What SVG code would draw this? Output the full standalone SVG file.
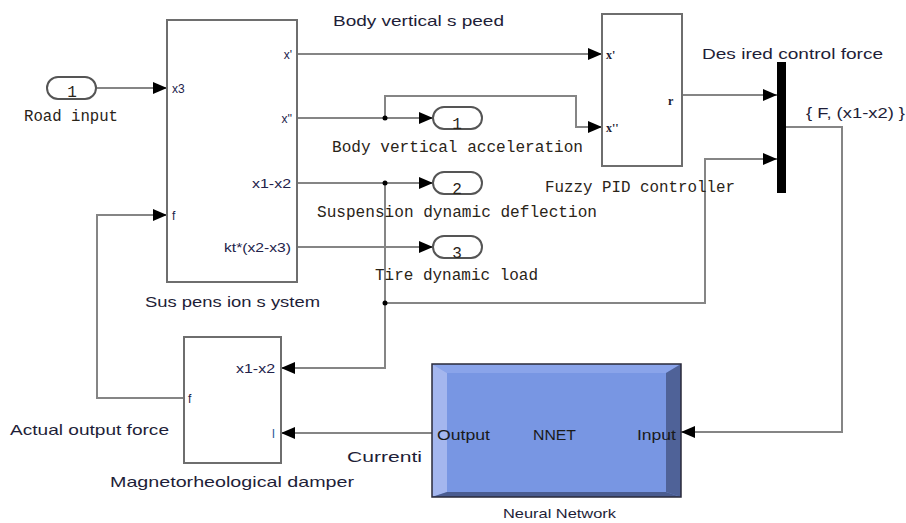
<svg xmlns="http://www.w3.org/2000/svg" width="906" height="523" viewBox="0 0 906 523">
<defs>
<marker id="arr" markerUnits="userSpaceOnUse" markerWidth="14" markerHeight="12" refX="14" refY="6" orient="auto">
<path d="M0,0 L14,6 L0,12 z" fill="#000"/>
</marker>
<style>
.blk{fill:#fff;stroke:#6e6e6e;stroke-width:2}
.port{fill:#fff;stroke:#555;stroke-width:2}
.ln{fill:none;stroke:#858585;stroke-width:2}
.sans{font-family:"Liberation Sans",Arial,sans-serif;fill:#1e1e38}
.mono{font-family:"Liberation Mono","Courier New",monospace;fill:#2a2418;font-size:16px}
.pl{font-family:"Liberation Sans",Arial,sans-serif;fill:#22224a;font-size:12px}
.fz{font-family:"Liberation Serif","Times New Roman",serif;font-weight:bold;fill:#1a1a30;font-size:12px}
.nn{font-family:"Liberation Sans",Arial,sans-serif;fill:#1a1a1a;font-size:15px}
.dot{fill:#000}
</style>
</defs>
<rect width="906" height="523" fill="#fff"/>

<g id="connectors">
<path class="ln" d="M96,88 H167" marker-end="url(#arr)"/>
<path class="ln" d="M297,54 H602" marker-end="url(#arr)"/>
<path class="ln" d="M297,118 H433" marker-end="url(#arr)"/>
<path class="ln" d="M385,118 V96 H576 V127 H602" marker-end="url(#arr)"/>
<path class="ln" d="M297,183 H433" marker-end="url(#arr)"/>
<path class="ln" d="M297,247 H433" marker-end="url(#arr)"/>
<path class="ln" d="M385,183 V368 H281" marker-end="url(#arr)"/>
<path class="ln" d="M385,303 H705 V159 H777" marker-end="url(#arr)"/>
<path class="ln" d="M682,95 H777" marker-end="url(#arr)"/>
<path class="ln" d="M786,127 H842 V432 H681" marker-end="url(#arr)"/>
<path class="ln" d="M432,433 H281" marker-end="url(#arr)"/>
<path class="ln" d="M184,398 H97 V215 H167" marker-end="url(#arr)"/>
<circle class="dot" cx="385" cy="118" r="2.5"/>
<circle class="dot" cx="385" cy="183" r="2.5"/>
<circle class="dot" cx="385" cy="303" r="2.5"/>
<text class="sans" x="333" y="26" font-size="15" textLength="171" lengthAdjust="spacingAndGlyphs">Body vertical s peed</text>
<text class="sans" x="806" y="118" font-size="15" textLength="99" lengthAdjust="spacingAndGlyphs">{ F, (x1-x2) }</text>
<text class="sans" x="347" y="462" font-size="15" textLength="75" lengthAdjust="spacingAndGlyphs">Currenti</text>
</g>

<g id="road-input">
<rect class="port" x="47" y="77" width="49" height="22" rx="11"/>
<text class="mono" x="72" y="97" font-size="14" text-anchor="middle">1</text>
<text class="mono" x="24" y="121" textLength="94" lengthAdjust="spacingAndGlyphs">Road input</text>
</g>

<g id="suspension-system">
<rect class="blk" x="167" y="20" width="130" height="262"/>
<text class="pl" x="172" y="93">x3</text>
<text class="pl" x="172" y="220">f</text>
<text class="pl" x="292" y="59" text-anchor="end">x'</text>
<text class="pl" x="292" y="123" text-anchor="end">x''</text>
<text class="pl" x="291" y="188" text-anchor="end" textLength="39" lengthAdjust="spacingAndGlyphs">x1-x2</text>
<text class="pl" x="291" y="252" text-anchor="end" textLength="67" lengthAdjust="spacingAndGlyphs">kt*(x2-x3)</text>
<text class="sans" x="145" y="307" font-size="15" textLength="175" lengthAdjust="spacingAndGlyphs">Sus pens ion s ystem</text>
</g>

<g id="out-acceleration">
<rect class="port" x="433" y="107" width="49" height="22" rx="11"/>
<text class="mono" x="457" y="129" font-size="14" text-anchor="middle">1</text>
<text class="mono" x="332" y="152" textLength="251" lengthAdjust="spacingAndGlyphs">Body vertical acceleration</text>
</g>

<g id="out-deflection">
<rect class="port" x="433" y="172" width="49" height="22" rx="11"/>
<text class="mono" x="457" y="194" font-size="14" text-anchor="middle">2</text>
<text class="mono" x="317" y="217" textLength="280" lengthAdjust="spacingAndGlyphs">Suspension dynamic deflection</text>
</g>

<g id="out-tire-load">
<rect class="port" x="433" y="236" width="49" height="22" rx="11"/>
<text class="mono" x="457" y="258" font-size="14" text-anchor="middle">3</text>
<text class="mono" x="375" y="280" textLength="163" lengthAdjust="spacingAndGlyphs">Tire dynamic load</text>
</g>

<g id="fuzzy-pid">
<rect class="blk" x="602" y="14" width="80" height="152"/>
<text class="fz" x="606" y="59">x'</text>
<text class="fz" x="606" y="132">x''</text>
<text class="fz" x="668" y="105">r</text>
<text class="mono" x="545" y="192" textLength="190" lengthAdjust="spacingAndGlyphs">Fuzzy PID controller</text>
</g>

<g id="mux">
<rect x="777" y="62" width="9" height="131" fill="#000"/>
<text class="sans" x="702" y="59" font-size="15" textLength="181" lengthAdjust="spacingAndGlyphs">Des ired control force</text>
</g>

<g id="mr-damper">
<rect class="blk" x="184" y="337" width="97" height="126"/>
<text class="pl" x="275" y="373" text-anchor="end" textLength="39" lengthAdjust="spacingAndGlyphs">x1-x2</text>
<text class="pl" x="275" y="438" text-anchor="end" style="fill:#2a5a9a">I</text>
<text class="pl" x="188" y="403">f</text>
<text class="sans" x="10" y="435" font-size="15" textLength="159" lengthAdjust="spacingAndGlyphs">Actual output force</text>
<text class="sans" x="110" y="487" font-size="15" textLength="244" lengthAdjust="spacingAndGlyphs">Magnetorheological damper</text>
</g>

<g id="neural-network">
<rect x="432" y="364" width="249" height="133" fill="#7896e3"/>
<polygon points="432,364 681,364 666,373 447,373" fill="#8aa4ea"/>
<polygon points="432,364 447,373 447,492 432,497" fill="#a4b6ee"/>
<polygon points="681,364 681,497 666,492 666,373" fill="#4f6298"/>
<polygon points="432,497 681,497 666,492 447,492" fill="#4a5c90"/>
<rect x="432" y="364" width="249" height="133" fill="none" stroke="#2a2a3a" stroke-width="1.5"/>
<text class="nn" x="437" y="440" textLength="53" lengthAdjust="spacingAndGlyphs">Output</text>
<text class="nn" x="533" y="440" textLength="43" lengthAdjust="spacingAndGlyphs">NNET</text>
<text class="nn" x="637" y="440" textLength="39" lengthAdjust="spacingAndGlyphs">Input</text>
<text class="sans" x="503" y="518" font-size="13" textLength="113" lengthAdjust="spacingAndGlyphs">Neural Network</text>
</g>
</svg>
